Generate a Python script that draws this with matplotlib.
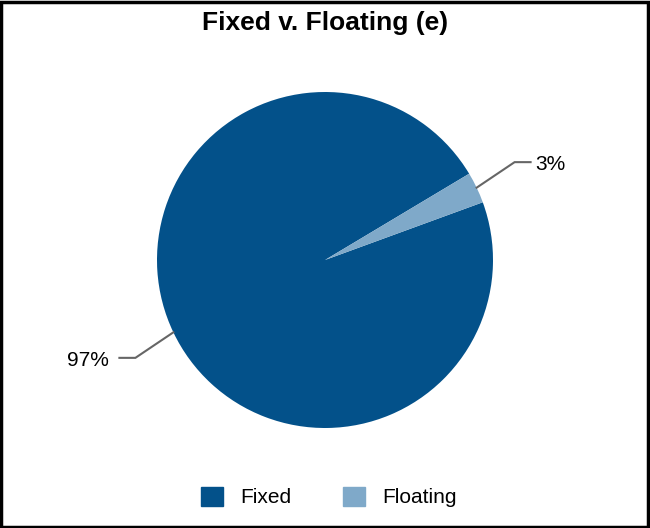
import numpy as np
import matplotlib
matplotlib.use("Agg")
import matplotlib.pyplot as plt
from matplotlib.patches import Rectangle

plt.rcParams['font.family'] = ['Liberation Sans', 'DejaVu Sans']

categories = ["Fixed", "Floating"]
values = [97, 3]
labels = ["97%", "3%"]
colors = ["#03518A", "#7FA9C9"]
title = "Fixed v. Floating (e)"

W, H = 650, 528
fig = plt.figure(figsize=(W / 100, H / 100), dpi=100)
ax = fig.add_axes([0, 0, 1, 1])

cx, cy, R = 325, H - 260, 168
wedges, _ = ax.pie(values, colors=colors, startangle=20.1, counterclock=False,
                   center=(cx, cy), radius=R, frame=True,
                   wedgeprops=dict(linewidth=0))
ax.set_xlim(0, W)
ax.set_ylim(0, H)
ax.set_aspect('equal')
ax.axis('off')

for w, lab in zip(wedges, labels):
    midd = (w.theta1 + w.theta2) / 2
    mid = np.deg2rad(midd)
    el = np.deg2rad(midd + 1.8)
    x0, y0 = cx + R * np.cos(mid), cy + R * np.sin(mid)
    x1, y1 = cx + 1.27 * R * np.cos(el), cy + 1.27 * R * np.sin(el)
    sgn = 1 if np.cos(mid) >= 0 else -1
    x2 = x1 + sgn * 16
    ax.plot([x0, x1, x2], [y0, y1, y1], color="#666666", lw=1.5,
            solid_joinstyle='miter', clip_on=False)
    gap = 5 if sgn > 0 else 11
    ax.text(x2 + sgn * gap, y1 - 2.5, lab, ha='left' if sgn > 0 else 'right',
            va='center', fontsize=15, color='black')

fig.text(0.5, 1 - 23 / H, title, ha='center', va='center',
         fontsize=19, fontweight='bold')

leg = fig.legend(handles=[Rectangle((0, 0), 1, 1, color=c) for c in colors],
                 labels=categories, loc='center',
                 bbox_to_anchor=(329 / W, 1 - 497 / H),
                 ncol=2, frameon=False, fontsize=15, handlelength=1.06,
                 handleheight=1.06, handletextpad=0.82, columnspacing=2.5,
                 borderpad=0, borderaxespad=0)

fig.patches.append(Rectangle((1, 1), W - 3, H - 3, transform=None,
                             fill=False, edgecolor='black', lw=2.5))

fig.savefig("out.png", dpi=100, facecolor='white')
